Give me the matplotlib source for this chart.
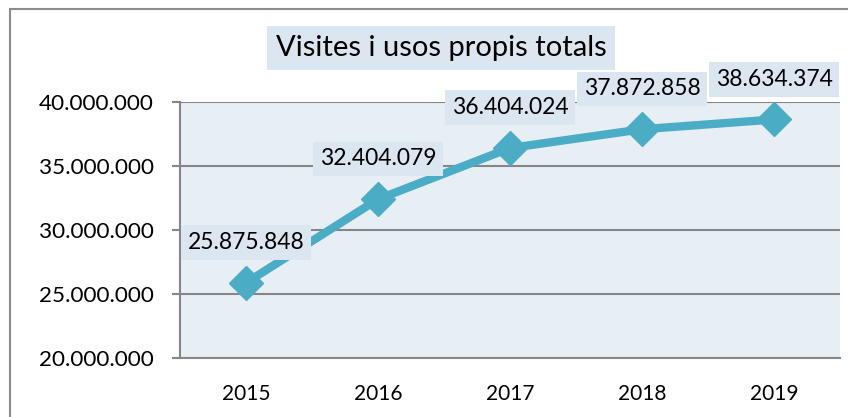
import matplotlib.pyplot as plt
from matplotlib.patches import Rectangle
from matplotlib.ticker import FuncFormatter

anys = ['2015', '2016', '2017', '2018', '2019']
visites = [25875848, 32404079, 36404024, 37872858, 38634374]
etiquetes = ['25.875.848', '32.404.079', '36.404.024', '37.872.858', '38.634.374']

plt.rcParams['font.family'] = ['Lato', 'DejaVu Sans']

fig = plt.figure(figsize=(8.48, 4.17), dpi=100)
fig.patch.set_facecolor('white')
# marc exterior del grafic
fig.patches.append(Rectangle((10/848, -0.2), 1.2, 1.2 - 9/417, transform=fig.transFigure,
                             fill=False, edgecolor='#8c8c8c', linewidth=1.5))

ax = fig.add_axes([180/848, 1 - 358/417, 660/848, 256/417])
ax.set_facecolor('#e8eff4')

x = list(range(len(anys)))
ax.plot(x, visites, color='#4bacc6', linewidth=6, marker='D', markersize=17,
        solid_joinstyle='miter', zorder=3)

for i, v in enumerate(visites):
    ax.annotate(etiquetes[i], (x[i], v), xytext=(0, 29),
                textcoords='offset points', ha='center', va='center', fontsize=16.5,
                bbox=dict(boxstyle='square,pad=0.3', facecolor='#dce6f1', edgecolor='none'),
                zorder=4)

ax.set_xlim(-0.5, 4.5)
ax.set_ylim(20000000, 40000000)
ax.set_yticks([20000000, 25000000, 30000000, 35000000, 40000000])
ax.yaxis.set_major_formatter(FuncFormatter(lambda v, p: f'{int(v):,}'.replace(',', '.')))
ax.set_xticks(x)
ax.set_xticklabels(anys)

ax.grid(axis='y', color='#868686', linewidth=1.5, zorder=1)
ax.set_axisbelow(True)
for s in ['top', 'right']:
    ax.spines[s].set_visible(False)
ax.spines['left'].set_color('#868686')
ax.spines['bottom'].set_color('#868686')
ax.spines['left'].set_linewidth(1.5)
ax.spines['bottom'].set_linewidth(1.5)
ax.tick_params(axis='y', length=6, width=1.5, color='#868686', labelsize=16.2, pad=13)
ax.tick_params(axis='x', length=0, labelsize=15, pad=19)

fig.text(441/848, 1 - 48/417, 'Visites i usos propis totals', ha='center', va='center',
         fontsize=21, bbox=dict(boxstyle='square,pad=0.3', facecolor='#dce6f1', edgecolor='none'))

fig.savefig('out.png', dpi=100)
